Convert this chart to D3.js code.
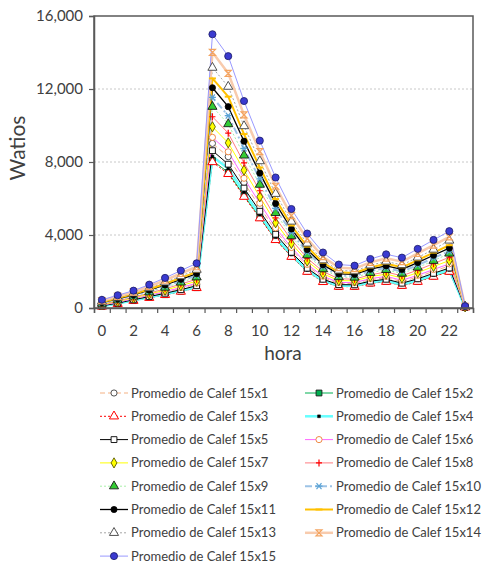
<!DOCTYPE html>
<html>
<head>
<meta charset="utf-8">
<script src="https://cdn.jsdelivr.net/npm/d3@7"></script>
<style>
  html, body { margin: 0; padding: 0; background: #fff; }
  svg { display: block; font-family: "Lato", "Open Sans", sans-serif; }
</style>
</head>
<body>
<svg id="chart" width="486" height="569"></svg>
<script>
// Hours of the day (category axis)
const hours = [0,1,2,3,4,5,6,7,8,9,10,11,12,13,14,15,16,17,18,19,20,21,22,23];
const xTickLabels = [0,2,4,6,8,10,12,14,16,18,20,22];
const yTicks = [0, 4000, 8000, 12000, 16000];

// Average heating power (W) per hour, one array per series
const calef15x1  = [135,300,480,665,855,1070,1300,9020,8290,6870,5540,4230,3190,2300,1665,1350,1340,1545,1660,1445,1700,2010,2310,50];
const calef15x2  = [85,235,405,570,730,915,1115,8080,7430,6160,4970,3770,2840,2015,1450,1185,1185,1365,1460,1240,1460,1745,2015,40];
const calef15x3  = [80,230,400,560,720,900,1100,8000,7350,6100,4920,3730,2810,1990,1430,1170,1170,1350,1440,1220,1440,1720,1990,40];
const calef15x4  = [95,250,425,590,760,950,1160,8300,7640,6340,5110,3880,2930,2080,1500,1220,1220,1410,1510,1290,1520,1810,2090,45];
const calef15x5  = [115,270,450,625,805,1005,1220,8620,7880,6570,5300,4040,3050,2180,1575,1280,1270,1470,1575,1360,1600,1900,2190,50];
const calef15x6  = [150,320,505,700,900,1120,1360,9350,8560,7110,5740,4390,3315,2390,1740,1400,1390,1610,1730,1520,1790,2110,2420,55];
const calef15x7  = [180,360,550,760,975,1220,1470,9930,9050,7550,6090,4670,3530,2570,1875,1500,1490,1720,1855,1645,1940,2275,2600,60];
const calef15x8  = [210,395,595,815,1050,1310,1580,10480,9580,7950,6425,4940,3740,2730,2000,1600,1580,1820,1970,1765,2080,2430,2780,60];
const calef15x9  = [240,435,640,870,1120,1400,1685,11030,10080,8360,6760,5210,3940,2895,2130,1695,1670,1930,2090,1890,2220,2590,2990,65];
const calef15x10 = [265,470,680,925,1190,1480,1780,11540,10540,8750,7070,5460,4130,3050,2245,1780,1750,2030,2200,2000,2350,2740,3110,70];
const calef15x11 = [295,505,720,980,1260,1570,1885,12070,11030,9140,7390,5720,4330,3200,2365,1870,1840,2125,2310,2115,2490,2890,3280,75];
const calef15x12 = [320,540,760,1030,1330,1650,1980,12580,11580,9530,7700,5970,4520,3360,2480,1960,1920,2220,2420,2230,2620,3035,3440,80];
const calef15x13 = [355,575,805,1090,1410,1750,2100,13170,12130,9970,8050,6260,4740,3535,2620,2060,2020,2340,2550,2360,2770,3205,3700,85];
const calef15x14 = [400,635,870,1180,1520,1890,2260,14010,12860,10580,8570,6670,5060,3785,2810,2210,2160,2500,2730,2540,2990,3450,3900,90];
const calef15x15 = [450,700,950,1280,1650,2050,2450,15000,13800,11340,9170,7150,5425,4080,3040,2380,2320,2685,2940,2760,3240,3730,4210,100];

const seriesNames = [
  "Promedio de Calef 15x1","Promedio de Calef 15x2","Promedio de Calef 15x3",
  "Promedio de Calef 15x4","Promedio de Calef 15x5","Promedio de Calef 15x6",
  "Promedio de Calef 15x7","Promedio de Calef 15x8","Promedio de Calef 15x9",
  "Promedio de Calef 15x10","Promedio de Calef 15x11","Promedio de Calef 15x12",
  "Promedio de Calef 15x13","Promedio de Calef 15x14","Promedio de Calef 15x15"
];
const seriesValues = [calef15x1,calef15x2,calef15x3,calef15x4,calef15x5,calef15x6,calef15x7,
  calef15x8,calef15x9,calef15x10,calef15x11,calef15x12,calef15x13,calef15x14,calef15x15];

// Marker path generators
const sym = (type, size) => d3.symbol(type, size)();
const markerPaths = {
  circle: sym(d3.symbolCircle, 30),
  bigCircle: sym(d3.symbolCircle, 40),
  square: sym(d3.symbolSquare, 34),
  smallSquare: sym(d3.symbolSquare, 8),
  triangle: sym(d3.symbolTriangle, 36),
  diamond: sym(d3.symbolDiamond, 30),
  plus: "M-3,0H3M0,-3.5V3.5",
  dash: "M-3.5,0H3.5",
  asterisk: "M-3.5,0H3.5M-2.5,-3L2.5,3M-2.5,3L2.5,-3",
  hourglass: "M-3,-3H3L-3,3H3Z"
};

// Visual style for each series (line + marker)
const styles = [
  {line:"#F4B183", w:1,   dash:"5,3", m:"circle",     fill:"#fff",    stroke:"#404040", mw:0.9},
  {line:"#00B050", w:1,   dash:null,  m:"square",     fill:"#00B050", stroke:"#1a1a1a", mw:0.9},
  {line:"#FF0000", w:1,   dash:"2,2", m:"triangle",   fill:"#fff",    stroke:"#FF0000", mw:1},
  {line:"#66FFFF", w:2.5, dash:null,  m:"smallSquare",fill:"#000",    stroke:"#000",    mw:0.5},
  {line:"#000000", w:1,   dash:null,  m:"square",     fill:"#fff",    stroke:"#000",    mw:0.9},
  {line:"#FF66FF", w:1,   dash:null,  m:"circle",     fill:"#fff",    stroke:"#ED7D31", mw:0.9},
  {line:"#FFFF00", w:1,   dash:null,  m:"diamond",    fill:"#FFFF00", stroke:"#595900", mw:0.9},
  {line:"#FF7C80", w:1,   dash:null,  m:"plus",       fill:"none",    stroke:"#FF0000", mw:1.2},
  {line:"#A9F0A9", w:1,   dash:"2,2", m:"triangle",   fill:"#33CC33", stroke:"#1a1a1a", mw:0.9},
  {line:"#9DC3E6", w:2,   dash:"7,3,2,3", m:"asterisk", fill:"none",  stroke:"#5BA3D5", mw:1.2},
  {line:"#000000", w:1.3, dash:null,  m:"circle",     fill:"#000",    stroke:"#000",    mw:0.8},
  {line:"#FFC000", w:2,   dash:null,  m:"dash",       fill:"none",    stroke:"#FFC000", mw:2},
  {line:"#A6A6A6", w:1,   dash:"2,2", m:"triangle",   fill:"#fff",    stroke:"#404040", mw:0.9},
  {line:"#F8CBAD", w:2.5, dash:null,  m:"hourglass",  fill:"none",    stroke:"#F4A460", mw:1.2},
  {line:"#9999FF", w:1,   dash:null,  m:"bigCircle",  fill:"#3A3AD0", stroke:"#1a1a66", mw:0.8}
];

const svg = d3.select("#chart");
const plot = {left: 94, right: 473, top: 16, bottom: 308};

const x = d3.scaleBand().domain(hours).range([plot.left, plot.right]).padding(0);
const xc = h => x(h) + x.bandwidth() / 2;
const y = d3.scaleLinear().domain([0, 16000]).range([plot.bottom, plot.top]);

// Horizontal gridlines
svg.append("g")
  .selectAll("line")
  .data(yTicks.filter(t => t > 0 && t < 16000))
  .join("line")
  .attr("x1", plot.left).attr("x2", plot.right)
  .attr("y1", d => y(d)).attr("y2", d => y(d))
  .attr("stroke", "#C8C8C8").attr("stroke-width", 1)
  .attr("stroke-dasharray", "2,2");

// Series lines
const line = d3.line().x((d, i) => xc(hours[i])).y(d => y(d));
const gSeries = svg.append("g");
seriesValues.forEach((vals, k) => {
  const s = styles[k];
  gSeries.append("path")
    .attr("d", line(vals))
    .attr("fill", "none")
    .attr("stroke", s.line)
    .attr("stroke-width", s.w)
    .attr("stroke-dasharray", s.dash)
    .attr("stroke-linejoin", "round");
});
// Series markers (drawn after all lines)
seriesValues.forEach((vals, k) => {
  const s = styles[k];
  gSeries.append("g")
    .selectAll("path")
    .data(vals)
    .join("path")
    .attr("transform", (d, i) => `translate(${xc(hours[i])},${y(d)})`)
    .attr("d", markerPaths[s.m])
    .attr("fill", s.fill)
    .attr("stroke", s.stroke)
    .attr("stroke-width", s.mw);
});

// Plot frame
svg.append("rect")
  .attr("x", plot.left).attr("y", plot.top)
  .attr("width", plot.right - plot.left).attr("height", plot.bottom - plot.top)
  .attr("fill", "none").attr("stroke", "#595959").attr("stroke-width", 1.5);

// Y axis
const yAxis = svg.append("g")
  .attr("transform", `translate(${plot.left},0)`)
  .call(d3.axisLeft(y).tickValues(yTicks).tickFormat(d3.format(",")).tickSize(5).tickPadding(6));
yAxis.select(".domain").attr("stroke", "#595959").attr("stroke-width", 1.5);
yAxis.selectAll(".tick line").attr("stroke", "#595959").attr("stroke-width", 1.2);
yAxis.selectAll("text").attr("font-size", 15).attr("fill", "#404040").attr("font-family", "Lato, sans-serif");

// X axis: tick marks on category boundaries
const xBound = d3.scaleLinear().domain([0, hours.length]).range([plot.left, plot.right]);
const xMarks = svg.append("g")
  .attr("transform", `translate(0,${plot.bottom})`)
  .call(d3.axisBottom(xBound).ticks(hours.length).tickFormat("").tickSize(5));
xMarks.select(".domain").attr("stroke", "#595959").attr("stroke-width", 1.5);
xMarks.selectAll(".tick line").attr("stroke", "#595959").attr("stroke-width", 1.2);

// X axis labels at category centres
const xAxis = svg.append("g")
  .attr("transform", `translate(0,${plot.bottom})`)
  .call(d3.axisBottom(x).tickValues(xTickLabels).tickSize(0).tickPadding(17));
xAxis.select(".domain").remove();
xAxis.selectAll("text").attr("font-size", 15).attr("fill", "#404040").attr("font-family", "Lato, sans-serif");

// Axis titles
svg.append("text")
  .attr("transform", "translate(25,148) rotate(-90)")
  .attr("text-anchor", "middle")
  .attr("font-size", 21).attr("fill", "#404040")
  .attr("font-family", "Lato, sans-serif")
  .text("Watios");
svg.append("text")
  .attr("x", 283).attr("y", 360)
  .attr("text-anchor", "middle")
  .attr("font-size", 19).attr("fill", "#404040")
  .attr("font-family", "Lato, sans-serif")
  .text("hora");

// Legend: two columns, series in reading order
const legend = svg.append("g");
const legendItems = seriesNames.map((name, k) => ({name, k, col: k % 2, row: Math.floor(k / 2)}));
const colX = [100, 305];
const rowY = r => 393 + r * 23.3;
const li = legend.selectAll("g").data(legendItems).join("g")
  .attr("transform", d => `translate(${colX[d.col]},${rowY(d.row)})`);
li.append("line")
  .attr("x1", 0).attr("x2", 28).attr("y1", 0).attr("y2", 0)
  .attr("stroke", d => styles[d.k].line)
  .attr("stroke-width", d => styles[d.k].w)
  .attr("stroke-dasharray", d => styles[d.k].dash);
li.append("path")
  .attr("transform", "translate(14,0)")
  .attr("d", d => markerPaths[styles[d.k].m])
  .attr("fill", d => styles[d.k].fill)
  .attr("stroke", d => styles[d.k].stroke)
  .attr("stroke-width", d => styles[d.k].mw);
li.append("text")
  .attr("x", 31).attr("y", 0).attr("dy", "0.35em")
  .attr("font-size", 13).attr("fill", "#404040")
  .attr("font-family", "Lato, sans-serif")
  .text(d => d.name);
</script>
</body>
</html>
